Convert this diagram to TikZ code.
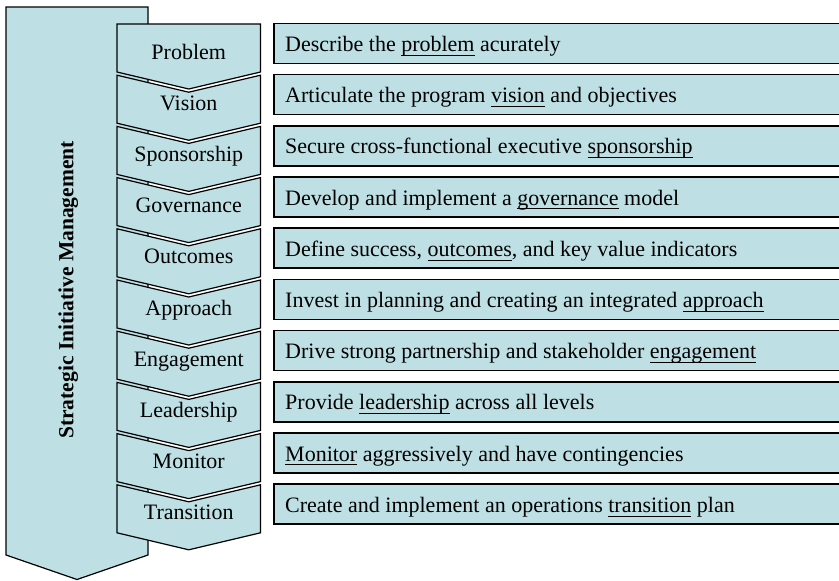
\documentclass[tikz,border=0pt]{standalone}
\usepackage{fontspec}
\setmainfont{Liberation Serif}
\definecolor{fillblue}{RGB}{190,224,228}
\newcommand\myul[1]{\setbox0\hbox{#1}\rlap{\rule[-4.2pt]{\wd0}{1pt}}\box0\relax}
\tikzset{
  shapefill/.style={fill=fillblue, draw=black, line width=1.2pt, line join=miter},
  boxstyle/.style={fill=fillblue, draw=black, line width=1.6pt},
  chevtext/.style={anchor=base, inner sep=0pt, font=\fontsize{22}{26}\selectfont},
  boxtext/.style={anchor=base west, inner sep=0pt, font=\fontsize{22}{26}\selectfont},
  titletext/.style={anchor=base, inner sep=0pt, rotate=90, font=\fontsize{21.5}{26}\selectfont\bfseries}
}
\newcommand\siRow[3]{%
  \pgfmathsetmacro\rt{24+51.2*#1}%
  \pgfmathsetmacro\bt{23.3+51.2*#1}%
  \ifnum#1=0
    \path[shapefill] (117,\rt) -- (260.5,\rt) -- (260.5,\rt+48) -- (188.75,\rt+65) -- (117,\rt+48) -- cycle;
  \else
    \path[shapefill] (117,\rt) -- (188.75,\rt+17) -- (260.5,\rt) -- (260.5,\rt+48) -- (188.75,\rt+65) -- (117,\rt+48) -- cycle;
  \fi
  \node[chevtext] (c#1) at (188.75,\rt+35) {#2};
  \path[boxstyle] (274,\bt) rectangle (850,\bt+40);
  \node[boxtext] (d#1) at (285,\bt+28.2) {#3};
}
\begin{document}
\begin{tikzpicture}[x=1pt,y=-1pt]
\useasboundingbox (0,0) rectangle (839,581);
\clip (0,0) rectangle (839,581);
\path[shapefill] (6,7) -- (148,7) -- (148,555) -- (77,579.5) -- (6,555) -- cycle;
\node[titletext] (title) at (73.3,290) {Strategic Initiative Management};
\siRow{0}{Problem}{Describe the \myul{problem} acurately}
\siRow{1}{Vision}{Articulate the program \myul{vision} and objectives}
\siRow{2}{Sponsorship}{Secure cross-functional executive \myul{sponsorship}}
\siRow{3}{Governance}{Develop and implement a \myul{governance} model}
\siRow{4}{Outcomes}{Define success, \myul{outcomes}, and key value indicators}
\siRow{5}{Approach}{Invest in planning and creating an integrated \myul{approach}}
\siRow{6}{Engagement}{Drive strong partnership and stakeholder \myul{engagement}}
\siRow{7}{Leadership}{Provide \myul{leadership} across all levels}
\siRow{8}{Monitor}{\myul{Monitor} aggressively and have contingencies}
\siRow{9}{Transition}{Create and implement an operations \myul{transition} plan}
\end{tikzpicture}
\end{document}
